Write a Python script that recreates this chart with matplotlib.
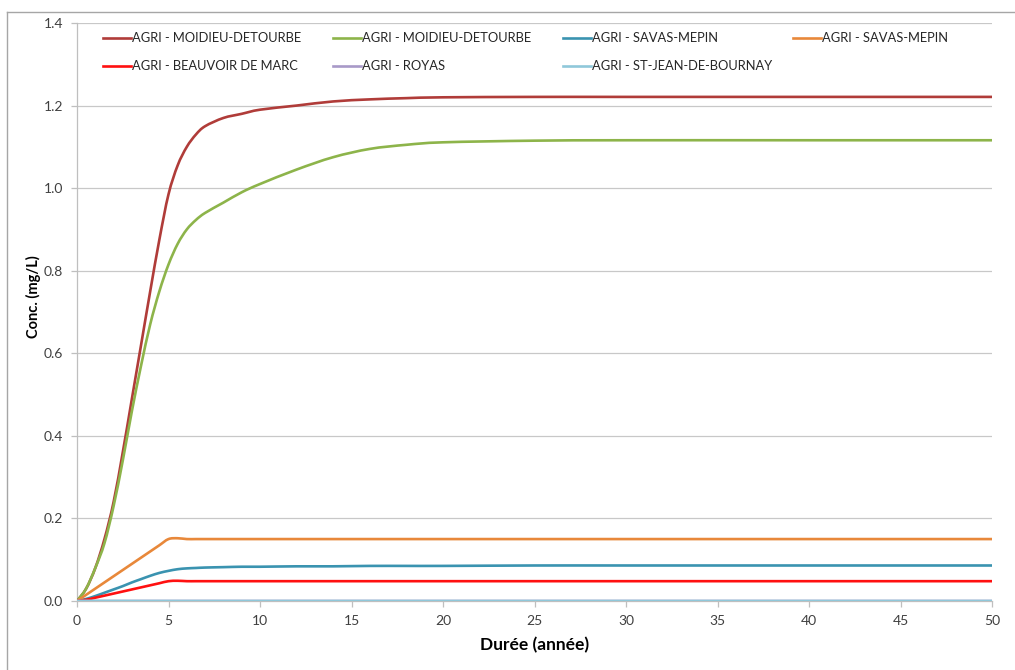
import matplotlib.pyplot as plt
from matplotlib.lines import Line2D
from matplotlib.path import Path
from matplotlib.patches import PathPatch

plt.rcParams['font.family'] = ['Lato', 'DejaVu Sans']

# years
t = [0, 0.5, 1, 1.5, 2, 2.5, 3, 3.5, 4, 4.5, 5, 5.5, 6, 6.5, 7, 8, 9, 10,
     12, 14, 16, 18, 20, 25, 30, 40, 50]

moidieu_1 = [0, 0.03, 0.08, 0.15, 0.24, 0.36, 0.49, 0.62, 0.75, 0.875, 0.985,
             1.055, 1.10, 1.13, 1.15, 1.17, 1.18, 1.19, 1.20, 1.21, 1.215,
             1.218, 1.22, 1.221, 1.221, 1.221, 1.221]
moidieu_2 = [0, 0.03, 0.08, 0.14, 0.23, 0.34, 0.46, 0.57, 0.67, 0.75, 0.815,
             0.865, 0.9, 0.923, 0.94, 0.965, 0.99, 1.01, 1.045, 1.075, 1.095,
             1.105, 1.111, 1.115, 1.116, 1.116, 1.116]
savas_1 = [0, 0.005, 0.012, 0.02, 0.028, 0.036, 0.045, 0.053, 0.061, 0.068,
           0.073, 0.077, 0.079, 0.080, 0.081, 0.082, 0.083, 0.083, 0.084,
           0.084, 0.085, 0.085, 0.085, 0.086, 0.086, 0.086, 0.086]
savas_2 = [0, 0.015, 0.03, 0.045, 0.06, 0.075, 0.09, 0.105, 0.12, 0.135,
           0.15, 0.152, 0.15, 0.15, 0.15, 0.15, 0.15, 0.15, 0.15, 0.15, 0.15,
           0.15, 0.15, 0.15, 0.15, 0.15, 0.15]
beauvoir = [0, 0.003, 0.008, 0.013, 0.018, 0.023, 0.028, 0.033, 0.038, 0.043,
            0.048, 0.049, 0.048, 0.048, 0.048, 0.048, 0.048, 0.048, 0.048,
            0.048, 0.048, 0.048, 0.048, 0.048, 0.048, 0.048, 0.048]
royas = [0] * len(t)
st_jean = [0] * len(t)

labels = ['AGRI - MOIDIEU-DETOURBE', 'AGRI - MOIDIEU-DETOURBE',
          'AGRI - SAVAS-MEPIN', 'AGRI - SAVAS-MEPIN',
          'AGRI - BEAUVOIR DE MARC', 'AGRI - ROYAS',
          'AGRI - ST-JEAN-DE-BOURNAY']
series = [moidieu_1, moidieu_2, savas_1, savas_2, beauvoir, royas, st_jean]
colors = ['#B03C39', '#8DB44A', '#3A93B0', '#E8883A', '#FF1010', '#A899C8',
          '#8FC8DA']


def smooth_path(xs, ys):
    # smoothed line like Excel: cubic Bezier through the points
    pts = list(zip(xs, ys))
    verts = [pts[0]]
    codes = [Path.MOVETO]
    n = len(pts)
    for i in range(n - 1):
        p0 = pts[max(i - 1, 0)]
        p1 = pts[i]
        p2 = pts[i + 1]
        p3 = pts[min(i + 2, n - 1)]
        c1 = (p1[0] + (p2[0] - p0[0]) / 6, p1[1] + (p2[1] - p0[1]) / 6)
        c2 = (p2[0] - (p3[0] - p1[0]) / 6, p2[1] - (p3[1] - p1[1]) / 6)
        verts += [c1, c2, p2]
        codes += [Path.CURVE4] * 3
    return Path(verts, codes)


W, H = 1015, 670
fig = plt.figure(figsize=(W / 100, H / 100), dpi=100)
ax = fig.add_axes([77 / W, 1 - 601 / H, (992 - 77) / W, (601 - 23) / H])

for y, c in zip(series, colors):
    ax.add_patch(PathPatch(smooth_path(t, y), facecolor='none', edgecolor=c,
                           lw=1.9, capstyle='round', zorder=3))

ax.set_xlim(0, 50)
ax.set_ylim(0, 1.4)
ax.set_xticks(range(0, 51, 5))
ax.set_yticks([i * 0.2 for i in range(8)])
ax.set_yticklabels([f'{i * 0.2:.1f}' for i in range(8)])
ax.grid(axis='y', color='#C8C8C8', lw=0.9)
ax.set_axisbelow(True)
for s in ['top', 'right']:
    ax.spines[s].set_visible(False)
for s in ['left', 'bottom']:
    ax.spines[s].set_color('#BFBFBF')
    ax.spines[s].set_linewidth(0.9)
ax.tick_params(colors='#BFBFBF', labelcolor='#404040', labelsize=10,
               length=4, width=0.9)
ax.tick_params(axis='x', pad=6)
ax.tick_params(axis='y', pad=6)

fig.text(33 / W, 1 - 297 / H, 'Conc. (mg/L)', rotation=90, ha='center',
         va='center', fontsize=10.5, fontweight='bold', color='#000000')
fig.text(535 / W, 1 - 645 / H, 'Durée (année)', ha='center', va='center',
         fontsize=12.5, fontweight='bold', color='#000000')

# legend laid out like the original (4 columns, row-wise)
for i, (lab, c) in enumerate(zip(labels, colors)):
    row, col = divmod(i, 4)
    x0 = 103 + 230 * col
    yy = 38 + 28 * row
    fig.add_artist(Line2D([x0 / W, (x0 + 28) / W], [1 - yy / H, 1 - yy / H],
                          color=c, lw=1.9))
    fig.text((x0 + 29) / W, 1 - yy / H, lab, ha='left', va='center',
             fontsize=9.3, color='#262626')

# chart frame
fig.add_artist(Line2D([7 / W, 1], [1 - 12 / H, 1 - 12 / H], color='#A6A6A6', lw=1))
fig.add_artist(Line2D([7 / W, 7 / W], [0, 1 - 12 / H], color='#A6A6A6', lw=1))

fig.savefig('out.png', dpi=100)
